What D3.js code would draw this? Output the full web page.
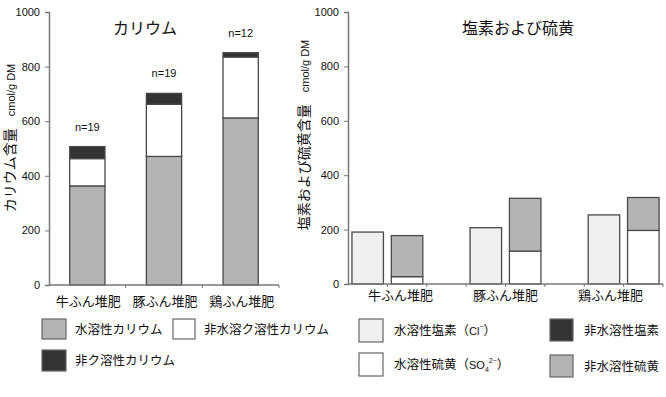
<!DOCTYPE html>
<html>
<head>
<meta charset="utf-8">
<script src="https://cdn.jsdelivr.net/npm/d3@7"></script>
<style>
  body { margin: 0; background: #fff; }
  svg { font-family: "Liberation Sans", "Noto Sans CJK JP", sans-serif; }
  .jp { font-family: "Noto Sans CJK JP", sans-serif; }
</style>
</head>
<body>
<div id="chart"></div>
<script>
// カリウム
const kCategories = ["牛ふん堆肥", "豚ふん堆肥", "鶏ふん堆肥"];
const kWater = [363, 471, 612];        // 水溶性カリウム
const kCitrate = [100, 191, 223];      // 非水溶ク溶性カリウム
const kInsoluble = [44, 40, 16];       // 非ク溶性カリウム
const kCounts = ["n=19", "n=19", "n=12"];

// 塩素および硫黄
const sSlots = ["牛Cl", "牛S", "gap1", "豚Cl", "豚S", "gap2", "鶏Cl", "鶏S"];
const clWater = [191, 207, 254];       // 水溶性塩素
const sWater = [27, 121, 197];         // 水溶性硫黄
const sInsoluble = [151, 194, 121];    // 非水溶性硫黄

const yTicks = [0, 200, 400, 600, 800, 1000];

const colGray = "#b4b4b4", colLight = "#efefef", colDark = "#333333", colWhite = "#ffffff";
const edge = "#4a4a4a";

const svg = d3.select("#chart").append("svg")
  .attr("width", 666).attr("height", 397);

function yAxis(g, y, x0) {
  g.attr("transform", `translate(${x0},0)`)
    .call(d3.axisLeft(y).tickValues(yTicks).tickFormat(d3.format("d")).tickSize(4).tickPadding(5))
    .call(a => a.select(".domain").attr("stroke", "#777").attr("stroke-width", 1.5))
    .call(a => a.selectAll(".tick line").attr("stroke", "#777"))
    .call(a => a.selectAll("text").attr("font-size", 11).attr("fill", "#111"));
}

function axisTitle(g, x, y, jpText) {
  g.append("text")
    .attr("transform", `translate(${x},${y}) rotate(-90)`)
    .attr("text-anchor", "middle").attr("fill", "#111")
    .call(t => {
      t.append("tspan").attr("class", "jp").attr("font-size", 14).text(jpText);
      t.append("tspan").attr("font-size", 11).attr("dx", 12).text("cmol/g DM");
    });
}

// ---------- left: カリウム ----------
const yL = d3.scaleLinear().domain([0, 1000]).range([285, 12]);
const xL = d3.scaleBand().domain(kCategories).range([49, 279]).paddingInner(0.54).paddingOuter(0.27);
const xLaxis = d3.scaleBand().domain(kCategories).range([49, 279]);

const left = svg.append("g");
const stackL = kCategories.map((c, i) => {
  const segs = [
    {v: kWater[i], fill: colGray},
    {v: kCitrate[i], fill: colWhite},
    {v: kInsoluble[i], fill: colDark}
  ];
  let acc = 0;
  return segs.map(s => ({cat: c, y0: acc, y1: (acc += s.v), fill: s.fill}));
}).flat();

left.selectAll("rect.bar").data(stackL).join("rect")
  .attr("class", "bar")
  .attr("x", d => xL(d.cat))
  .attr("width", xL.bandwidth())
  .attr("y", d => yL(d.y1))
  .attr("height", d => yL(d.y0) - yL(d.y1))
  .attr("fill", d => d.fill)
  .attr("stroke", edge).attr("stroke-width", 1.3);

left.selectAll("text.n").data(kCategories).join("text")
  .attr("class", "n")
  .attr("x", d => xL(d) + xL.bandwidth() / 2)
  .attr("y", (d, i) => yL(kWater[i] + kCitrate[i] + kInsoluble[i]) - 16)
  .attr("text-anchor", "middle").attr("font-size", 11).attr("fill", "#111")
  .text((d, i) => kCounts[i]);

// x axis
left.append("line").attr("x1", 49).attr("x2", 279).attr("y1", yL(0)).attr("y2", yL(0))
  .attr("stroke", "#777").attr("stroke-width", 1.5);
left.selectAll("line.xt").data(kCategories).join("line")
  .attr("class", "xt")
  .attr("x1", d => xLaxis(d) + xLaxis.bandwidth()).attr("x2", d => xLaxis(d) + xLaxis.bandwidth())
  .attr("y1", yL(0)).attr("y2", yL(0) + 3).attr("stroke", "#777");
left.selectAll("text.cat").data(kCategories).join("text")
  .attr("class", "cat jp")
  .attr("x", d => xLaxis(d) + xLaxis.bandwidth() / 2 + 1)
  .attr("y", 306).attr("text-anchor", "middle").attr("font-size", 13).attr("fill", "#111")
  .text(d => d);

left.append("g").call(yAxis, yL, 49);

left.append("text").attr("class", "jp").attr("x", 145).attr("y", 34)
  .attr("text-anchor", "middle").attr("font-size", 16).attr("fill", "#111").text("カリウム");

axisTitle(left, 15, 138, "カリウム含量");

// ---------- right: 塩素および硫黄 ----------
const yR = d3.scaleLinear().domain([0, 1000]).range([284, 12]);
const xR = d3.scaleBand().domain(sSlots).range([348, 663]).paddingInner(0.2).paddingOuter(0.1);
const xRslot = d3.scaleBand().domain(sSlots).range([348, 663]);
const xRcat = d3.scaleBand().domain(kCategories).range([348, 663]);

const right = svg.append("g");
const barsR = [];
kCategories.forEach((c, i) => {
  const pre = c[0];
  barsR.push({slot: pre + "Cl", y0: 0, y1: clWater[i], fill: colLight});
  barsR.push({slot: pre + "S", y0: 0, y1: sWater[i], fill: colWhite});
  barsR.push({slot: pre + "S", y0: sWater[i], y1: sWater[i] + sInsoluble[i], fill: colGray});
});

right.selectAll("rect.bar").data(barsR).join("rect")
  .attr("class", "bar")
  .attr("x", d => xR(d.slot))
  .attr("width", xR.bandwidth())
  .attr("y", d => yR(d.y1))
  .attr("height", d => yR(d.y0) - yR(d.y1))
  .attr("fill", d => d.fill)
  .attr("stroke", edge).attr("stroke-width", 1.3);

right.append("line").attr("x1", 348).attr("x2", 663).attr("y1", yR(0)).attr("y2", yR(0))
  .attr("stroke", "#777").attr("stroke-width", 1.5);
right.selectAll("line.xt").data(sSlots).join("line")
  .attr("class", "xt")
  .attr("x1", d => xRslot(d) + xRslot.bandwidth()).attr("x2", d => xRslot(d) + xRslot.bandwidth())
  .attr("y1", yR(0)).attr("y2", yR(0) + 3).attr("stroke", "#777");
right.selectAll("text.cat").data(kCategories).join("text")
  .attr("class", "cat jp")
  .attr("x", d => xRcat(d) + xRcat.bandwidth() / 2)
  .attr("y", 300).attr("text-anchor", "middle").attr("font-size", 13).attr("fill", "#111")
  .text(d => d);

right.append("g").call(yAxis, yR, 348);

right.append("text").attr("class", "jp").attr("x", 518).attr("y", 34)
  .attr("text-anchor", "middle").attr("font-size", 16).attr("fill", "#111").text("塩素および硫黄");

axisTitle(right, 309, 135, "塩素および硫黄含量");

// ---------- legends ----------
const legendL = [
  {label: "水溶性カリウム", fill: colGray, x: 42, y: 319, w: 24, h: 20},
  {label: "非水溶ク溶性カリウム", fill: colWhite, x: 173, y: 319, w: 22, h: 20},
  {label: "非ク溶性カリウム", fill: colDark, x: 42, y: 350, w: 24, h: 21}
];
const legendR = [
  {label: "水溶性塩素", sub: "Cl", sup: "−", fill: colLight, x: 359, y: 319, w: 24, h: 23},
  {label: "水溶性硫黄", sub: "SO", idx: "4", sup: "2−", fill: colWhite, x: 359, y: 353, w: 24, h: 23},
  {label: "非水溶性塩素", fill: colDark, x: 550, y: 319, w: 23, h: 22},
  {label: "非水溶性硫黄", fill: colGray, x: 550, y: 355, w: 23, h: 22}
];

function drawLegend(items, textDx) {
  const g = svg.append("g");
  const it = g.selectAll("g").data(items).join("g");
  it.append("rect")
    .attr("x", d => d.x).attr("y", d => d.y).attr("width", d => d.w).attr("height", d => d.h)
    .attr("fill", d => d.fill).attr("stroke", "#666").attr("stroke-width", 1.2);
  it.append("text")
    .attr("x", d => d.x + d.w + textDx).attr("y", d => d.y + d.h / 2 + 4.5)
    .attr("font-size", 12.5).attr("fill", "#111")
    .each(function(d) {
      const t = d3.select(this);
      t.append("tspan").attr("class", "jp").text(d.label);
      if (d.sub) {
        t.append("tspan").attr("class", "jp").text("（");
        t.append("tspan").attr("font-size", 11).text(d.sub);
        if (d.idx) t.append("tspan").attr("font-size", 7).attr("dy", 3).text(d.idx);
        t.append("tspan").attr("font-size", 7).attr("dy", d.idx ? -9 : -6).text(d.sup);
        t.append("tspan").attr("class", "jp").attr("dy", 6).text("）");
      }
    });
}
drawLegend(legendL, 9);
drawLegend(legendR, 11);
</script>
</body>
</html>
